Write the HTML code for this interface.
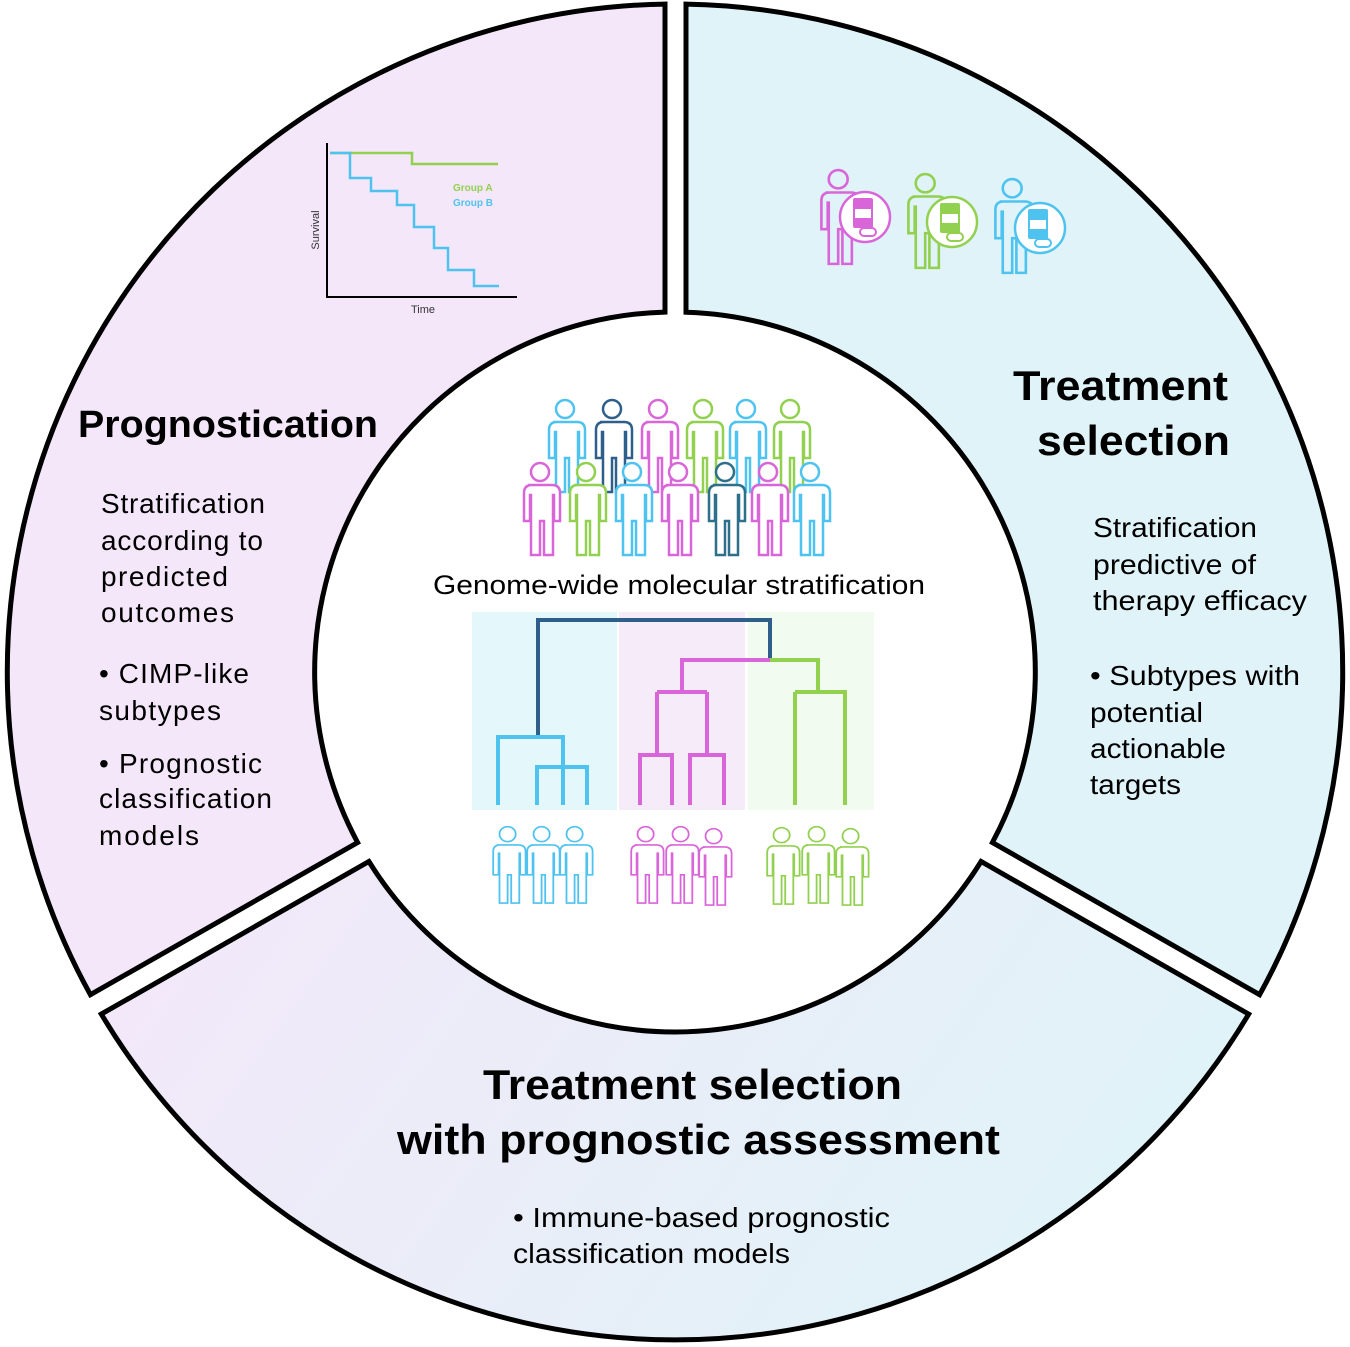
<!DOCTYPE html>
<html><head><meta charset="utf-8"><style>
html,body{margin:0;padding:0;background:#fff;}
svg{display:block;}
text{font-family:"Liberation Sans",Arial,sans-serif;}
</style></head><body>
<svg width="1350" height="1347" viewBox="0 0 1350 1347" xmlns="http://www.w3.org/2000/svg">
<defs>
<linearGradient id="bg" x1="0" y1="0" x2="1" y2="0.3">
<stop offset="0" stop-color="#f4e7f9"/><stop offset="1" stop-color="#e0f3f8"/>
</linearGradient>
<g id="p">
<circle cx="24" cy="11" r="9"/>
<path d="M12,24 h24 q8,0 8,8 v28 h-6 v-26 h-1 v60 h-9 v-34 h-4 v34 h-9 v-60 h-1 v26 h-6 v-28 q0,-8 8,-8 z"/>
</g>
</defs>
<rect width="1350" height="1347" fill="#fff"/>
<g stroke="#000" stroke-width="5" stroke-linejoin="miter">
<path d="M665,4.1 L665,312.1 A360,360 0 0 0 357.6,842.5 L90.4,994.7 A668,668 0 0 1 665,4.1 Z" fill="#f4e7f9"/>
<path d="M686,4.1 L686,312.2 A360,360 0 0 1 992.4,842.5 L1259.6,994.7 A668,668 0 0 0 686,4.1 Z" fill="#e0f3f8"/>
<path d="M101.3,1014.1 L368.9,861.5 A360,360 0 0 0 981.1,861.5 L1248.7,1014.1 A668,668 0 0 1 101.3,1014.1 Z" fill="url(#bg)"/>
</g>

<!-- KM chart -->
<g fill="none" stroke-width="2.5">
<path d="M327,143 V297 H517" stroke="#000" stroke-width="2"/>
<path d="M330,153 H412 V164 H498" stroke="#92d050"/>
<path d="M330,153 H350 V178 H371 V191 H397 V205 H414 V227 H434 V248 H448 V270 H474 V286 H499" stroke="#4fc3ef"/>
</g>
<text x="453" y="191" font-size="10" font-weight="bold" fill="#92d050">Group A</text>
<text x="453" y="206" font-size="10" font-weight="bold" fill="#4fc3ef">Group B</text>
<text x="423" y="313" font-size="11" fill="#333" text-anchor="middle">Time</text>
<text transform="translate(319,230) rotate(-90)" font-size="11" fill="#333" text-anchor="middle">Survival</text>

<!-- treatment icons -->
<g fill="#e0f3f8" stroke-width="2.5">
<use href="#p" transform="translate(813,168) scale(1.05,1.02)" stroke="#d966d9"/>
<circle cx="865" cy="217" r="25" fill="#fff" stroke="#d966d9"/>
<rect x="853" y="198" width="20" height="30" rx="2" fill="#d966d9" stroke="none"/>
<rect x="855" y="209" width="16" height="9" fill="#fff" stroke="none"/>
<rect x="860" y="228" width="16" height="8" rx="4" fill="#fff" stroke="#d966d9" stroke-width="2"/>
<use href="#p" transform="translate(900,172) scale(1.05,1.02)" stroke="#92d050"/>
<circle cx="952" cy="222" r="25" fill="#fff" stroke="#92d050"/>
<rect x="940" y="203" width="20" height="30" rx="2" fill="#92d050" stroke="none"/>
<rect x="942" y="214" width="16" height="9" fill="#fff" stroke="none"/>
<rect x="947" y="233" width="16" height="8" rx="4" fill="#fff" stroke="#92d050" stroke-width="2"/>
<use href="#p" transform="translate(987,177) scale(1.05,1.02)" stroke="#4fc3ef"/>
<circle cx="1040" cy="228" r="25" fill="#fff" stroke="#4fc3ef"/>
<rect x="1028" y="209" width="20" height="30" rx="2" fill="#4fc3ef" stroke="none"/>
<rect x="1030" y="220" width="16" height="9" fill="#fff" stroke="none"/>
<rect x="1035" y="239" width="16" height="8" rx="4" fill="#fff" stroke="#4fc3ef" stroke-width="2"/>
</g>

<!-- crowd -->
<g fill="#fff" stroke-width="2.5">
<use href="#p" transform="translate(541,398)" stroke="#4fc3ef"/>
<use href="#p" transform="translate(588,398)" stroke="#2e5f8a"/>
<use href="#p" transform="translate(634,398)" stroke="#d966d9"/>
<use href="#p" transform="translate(679,398)" stroke="#92d050"/>
<use href="#p" transform="translate(722,398)" stroke="#4fc3ef"/>
<use href="#p" transform="translate(766,398)" stroke="#92d050"/>
<use href="#p" transform="translate(516,461)" stroke="#d966d9"/>
<use href="#p" transform="translate(562,461)" stroke="#92d050"/>
<use href="#p" transform="translate(608,461)" stroke="#4fc3ef"/>
<use href="#p" transform="translate(654,461)" stroke="#d966d9"/>
<use href="#p" transform="translate(701,461)" stroke="#2e6f8a"/>
<use href="#p" transform="translate(744,461)" stroke="#d966d9"/>
<use href="#p" transform="translate(786,461)" stroke="#4fc3ef"/>
</g>
<text x="433" y="594" font-size="27" textLength="492" lengthAdjust="spacingAndGlyphs" fill="#000">Genome-wide molecular stratification</text>

<!-- dendrogram -->
<rect x="472" y="612" width="145" height="198" fill="#e4f7fb"/>
<rect x="619" y="612" width="126" height="198" fill="#f6ebf8"/>
<rect x="748" y="612" width="126" height="198" fill="#f2fbef"/>
<g fill="none" stroke-width="4">
<path d="M538,737 V620 H770 V660" stroke="#2e5f8a"/>
<path d="M498,805 V737 H563 V805 M537,805 V767 H587 V805" stroke="#4fc3ef"/>
<path d="M770,660 H682 V692 M657,692 H707 M657,692 V755 M640,805 V755 H672 V805 M707,692 V755 M690,805 V755 H724 V805" stroke="#d966d9"/>
<path d="M770,660 H818 V692 M795,692 H845 V805 M795,692 V805" stroke="#92d050"/>
</g>
<g fill="#fff" stroke-width="2">
<use href="#p" transform="translate(486,825) scale(0.9,0.83)" stroke="#4fc3ef"/>
<use href="#p" transform="translate(520,825) scale(0.9,0.83)" stroke="#4fc3ef"/>
<use href="#p" transform="translate(553,825) scale(0.9,0.83)" stroke="#4fc3ef"/>
<use href="#p" transform="translate(624,825) scale(0.9,0.83)" stroke="#d966d9"/>
<use href="#p" transform="translate(659,825) scale(0.9,0.83)" stroke="#d966d9"/>
<use href="#p" transform="translate(692,827) scale(0.9,0.83)" stroke="#d966d9"/>
<use href="#p" transform="translate(760,826) scale(0.9,0.83)" stroke="#92d050"/>
<use href="#p" transform="translate(795,825) scale(0.9,0.83)" stroke="#92d050"/>
<use href="#p" transform="translate(829,827) scale(0.9,0.83)" stroke="#92d050"/>
</g>

<!-- texts left -->
<text x="78" y="437" font-size="38" font-weight="bold" textLength="300" lengthAdjust="spacingAndGlyphs">Prognostication</text>
<g font-size="28" fill="#000" lengthAdjust="spacingAndGlyphs">
<text x="101" y="513" textLength="164">Stratification</text>
<text x="101" y="550" textLength="162">according to</text>
<text x="101" y="586" textLength="127">predicted</text>
<text x="101" y="622" textLength="133">outcomes</text>
<text x="99" y="683" textLength="150">• CIMP-like</text>
<text x="99" y="720" textLength="122">subtypes</text>
<text x="99" y="773" textLength="163">• Prognostic</text>
<text x="99" y="808" textLength="173">classification</text>
<text x="99" y="845" textLength="100">models</text>
</g>
<!-- right -->
<g font-size="42" font-weight="bold">
<text x="1013" y="400" textLength="215" lengthAdjust="spacingAndGlyphs">Treatment</text>
<text x="1037" y="455" textLength="193" lengthAdjust="spacingAndGlyphs">selection</text>
</g>
<g font-size="28">
<text x="1093" y="537" textLength="164" lengthAdjust="spacingAndGlyphs">Stratification</text>
<text x="1093" y="574" textLength="163" lengthAdjust="spacingAndGlyphs">predictive of</text>
<text x="1093" y="610" textLength="214" lengthAdjust="spacingAndGlyphs">therapy efficacy</text>
<text x="1090" y="685" textLength="210" lengthAdjust="spacingAndGlyphs">•  Subtypes with</text>
<text x="1090" y="722" textLength="113" lengthAdjust="spacingAndGlyphs">potential</text>
<text x="1090" y="758" textLength="136" lengthAdjust="spacingAndGlyphs">actionable</text>
<text x="1090" y="794" textLength="91" lengthAdjust="spacingAndGlyphs">targets</text>
</g>
<!-- bottom -->
<g font-size="42" font-weight="bold">
<text x="483" y="1099" textLength="419" lengthAdjust="spacingAndGlyphs">Treatment selection</text>
<text x="397" y="1154" textLength="603" lengthAdjust="spacingAndGlyphs">with prognostic assessment</text>
</g>
<g font-size="28">
<text x="513" y="1227" textLength="377" lengthAdjust="spacingAndGlyphs">•  Immune-based prognostic</text>
<text x="513" y="1263" textLength="277" lengthAdjust="spacingAndGlyphs">classification models</text>
</g>
</svg>
</body></html>
